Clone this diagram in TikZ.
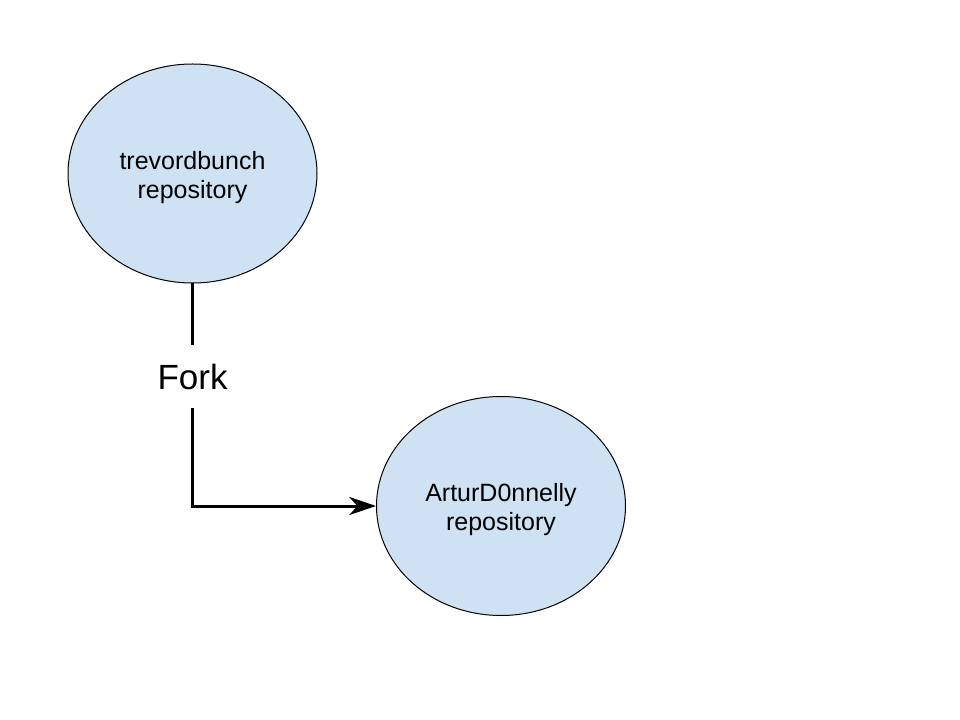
\documentclass[tikz,border=0pt]{standalone}
\usepackage{fontspec}
\setmainfont{Liberation Sans}
\usetikzlibrary{shapes.geometric,arrows.meta}
\definecolor{repofill}{HTML}{CFE2F3}
\newcommand\repotext[2]{\raisebox{-3.5pt}[\height][\depth]{\begin{tabular}{@{}c@{}}#1\\#2\end{tabular}}}
\tikzset{
  repo/.style={ellipse, draw=black, line width=0.75pt, fill=repofill,
    minimum width=186.75pt, minimum height=164.25pt, inner sep=0pt,
    font=\fontsize{18.75pt}{21.75pt}\selectfont},
  forklabel/.style={inner sep=0pt, minimum height=47.25pt,
    font=\fontsize{26.25pt}{30pt}\selectfont},
  link/.style={line width=2.25pt, black}
}
\begin{document}
\begin{tikzpicture}[x=0.75pt,y=-0.75pt]
  \useasboundingbox (0,0) rectangle (960,720);
  \node[repo] (t) at (192.5,173.5) {\repotext{trevordbunch}{repository}};
  \node[repo] (a) at (501,506) {\repotext{ArturD0nnelly}{repository}};
  \node[forklabel] (fork) at (192.5,376.5) {Fork};
  \draw[link] (t.south) -- (fork.north);
  \draw[link, -{Stealth[length=20pt, width=13.5pt, inset=6pt]}] (fork.south) |- (a.west);
\end{tikzpicture}
\end{document}
